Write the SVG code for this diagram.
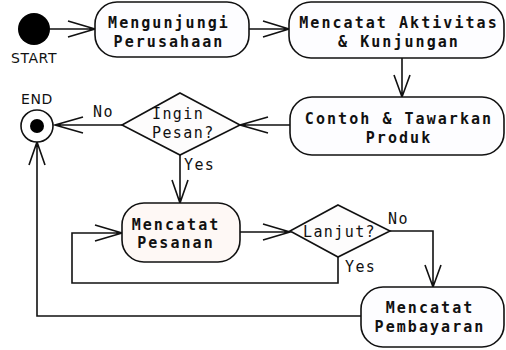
<svg xmlns="http://www.w3.org/2000/svg" width="506" height="350" viewBox="0 0 506 350">
<defs>
<style>
.node{fill:#fdfdff;stroke:#111;stroke-width:1.6}
.warm{fill:#fef8f5}
.dia{fill:#fdfcfc;stroke:#111;stroke-width:1.6}
.ln{fill:none;stroke:#111;stroke-width:1.6}
.t{font-family:"DejaVu Sans Mono","Liberation Mono",monospace;font-size:15px;font-weight:bold;letter-spacing:2.05px;fill:#111;text-anchor:middle}
.d{font-family:"DejaVu Sans Mono","Liberation Mono",monospace;font-size:15px;letter-spacing:1.4px;fill:#111}
.s{font-family:"DejaVu Sans","Verdana",sans-serif;font-size:14px;fill:#111;text-anchor:middle;letter-spacing:0.6px}
</style>
</defs>
<rect width="506" height="350" fill="#fff"/>
<g id="connectors" class="ln">
<path d="M50 29 H95 M68 21 L95 29 L68 37"/>
<path d="M249 29 H289 M263 21 L289 29 L263 37"/>
<path d="M402 58 V97 M394 75 L402 97 L410 75"/>
<path d="M290 125 H240 M268 117 L240 125 L268 133"/>
<path d="M122 125 H55 M83 117 L55 125 L83 133"/>
<path d="M180 155 V203 M172 180 L180 203 L188 180"/>
<path d="M240 232 H290 M263 224 L290 232 L263 240"/>
<path d="M390 231 H433 V287 M425 265 L433 287 L441 265"/>
<path d="M338 257 V283 H72 V233 H122 M95 225 L122 233 L95 241"/>
<path d="M361 316 H37 V142 M29 165 L37 142 L45 165"/>
</g>
<g id="start">
<circle cx="34" cy="29" r="16" fill="#000"/>
<text class="s" x="34" y="63">START</text>
</g>
<g id="end">
<circle cx="37" cy="126" r="16" fill="#fff" stroke="#111" stroke-width="1.6"/>
<circle cx="37" cy="126" r="7" fill="#000"/>
<text class="s" x="37" y="104">END</text>
</g>
<g id="n1">
<rect class="node" x="95" y="2" width="154" height="55" rx="22"/>
<text class="t" x="169" y="28">Mengunjungi</text>
<text class="t" x="169" y="47">Perusahaan</text>
</g>
<g id="n2">
<rect class="node" x="289" y="2" width="215" height="56" rx="22"/>
<text class="t" x="399" y="28">Mencatat Aktivitas</text>
<text class="t" x="399" y="47">&amp; Kunjungan</text>
</g>
<g id="n3">
<rect class="node" x="290" y="97" width="214" height="58" rx="22"/>
<text class="t" x="399" y="124">Contoh &amp; Tawarkan</text>
<text class="t" x="399" y="143">Produk</text>
</g>
<g id="d1">
<path class="dia" d="M180 93 L240 125 L180 155 L122 125 Z"/>
<text class="d" x="152" y="119">Ingin</text>
<text class="d" x="152" y="138">Pesan?</text>
<text class="d" x="93" y="117">No</text>
<text class="d" x="184" y="170">Yes</text>
</g>
<g id="n4">
<rect class="node warm" x="122" y="203" width="118" height="59" rx="22"/>
<text class="t" x="176" y="230">Mencatat</text>
<text class="t" x="176" y="248">Pesanan</text>
</g>
<g id="d2">
<path class="dia" d="M338 205 L390 231 L338 257 L290 231 Z"/>
<text class="d" x="303" y="237">Lanjut?</text>
<text class="d" x="388" y="224">No</text>
<text class="d" x="345" y="272">Yes</text>
</g>
<g id="n5">
<rect class="node" x="361" y="287" width="143" height="60" rx="22"/>
<text class="t" x="430" y="313">Mencatat</text>
<text class="t" x="430" y="332">Pembayaran</text>
</g>
</svg>
